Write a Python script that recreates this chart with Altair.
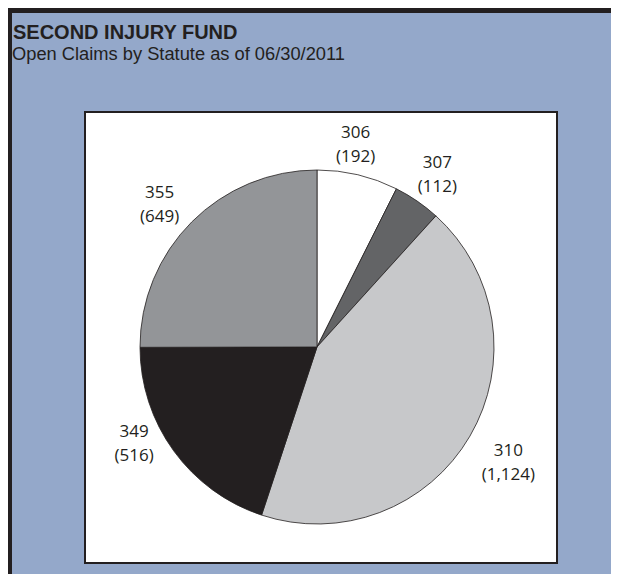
import altair as alt
import pandas as pd

# --- data ---
statutes = ["306", "307", "310", "349", "355"]
claims = [192, 112, 1124, 516, 649]
slice_colors = ["#ffffff", "#636466", "#c7c8ca", "#231f20", "#939598"]

title_text = "SECOND INJURY FUND"
subtitle_text = "Open Claims by Statute as of 06/30/2011"

df = pd.DataFrame({
    "statute": statutes,
    "claims": claims,
    "idx": list(range(len(statutes))),
    "label": [f"{s}\n({c:,})" for s, c in zip(statutes, claims)],
})

W, H = 603, 566
CX, CY, R = 309, 339, 177
INK = "#231f20"
BG = "#94a8ca"

# small per-label nudges (style only) so labels sit where the reference has them
label_nudge = {
    "306": (-10, -9),
    "307": (1, -10),
    "310": (9, -2),
    "349": (-12, -39),
    "355": (-8, -5),
}

one = alt.Data(values=[{}])

top_border = alt.Chart(one).mark_rect(color=INK).encode(
    x=alt.value(0), x2=alt.value(W), y=alt.value(0), y2=alt.value(5)
)
left_border = alt.Chart(one).mark_rect(color=INK).encode(
    x=alt.value(0), x2=alt.value(4), y=alt.value(0), y2=alt.value(H)
)

box = alt.Chart(one).mark_rect(fill="white", stroke=INK, strokeWidth=2).encode(
    x=alt.value(77), x2=alt.value(549), y=alt.value(104), y2=alt.value(555)
)

title = alt.Chart(one).mark_text(
    align="left", baseline="alphabetic", font="Liberation Sans",
    fontSize=20, fontWeight="bold", color=INK
).encode(x=alt.value(5), y=alt.value(31), text=alt.value(title_text))

subtitle = alt.Chart(one).mark_text(
    align="left", baseline="alphabetic", font="Liberation Sans",
    fontSize=18.3, color=INK
).encode(x=alt.value(4), y=alt.value(52), text=alt.value(subtitle_text))

theta = alt.Theta("claims:Q", stack=True)
order = alt.Order("idx:Q", sort="ascending")

pie = alt.Chart(df).mark_arc(outerRadius=R, stroke=INK, strokeWidth=0.8).encode(
    theta=theta,
    color=alt.Color("statute:N", scale=alt.Scale(domain=statutes, range=slice_colors), legend=None),
    order=order,
    x=alt.value(CX), y=alt.value(CY),
)

label_layers = []
for s in statutes:
    ddx, ddy = label_nudge[s]
    label_layers.append(
        alt.Chart(df).mark_text(
            radius=211, font="Open Sans", fontSize=17, lineBreak="\n", lineHeight=24,
            color=INK, baseline="middle", align="center", dx=ddx, dy=ddy
        ).encode(
            theta=theta,
            text="label:N",
            order=order,
            x=alt.value(CX), y=alt.value(CY),
            opacity=alt.condition(alt.datum.statute == s, alt.value(1), alt.value(0)),
        )
    )

chart = alt.layer(top_border, left_border, box, title, subtitle, pie, *label_layers).properties(
    width=W, height=H, autosize="none", padding=0, background=BG
).configure_view(stroke=None)

chart.save("out.html", embed_options={"renderer": "svg", "actions": False})
